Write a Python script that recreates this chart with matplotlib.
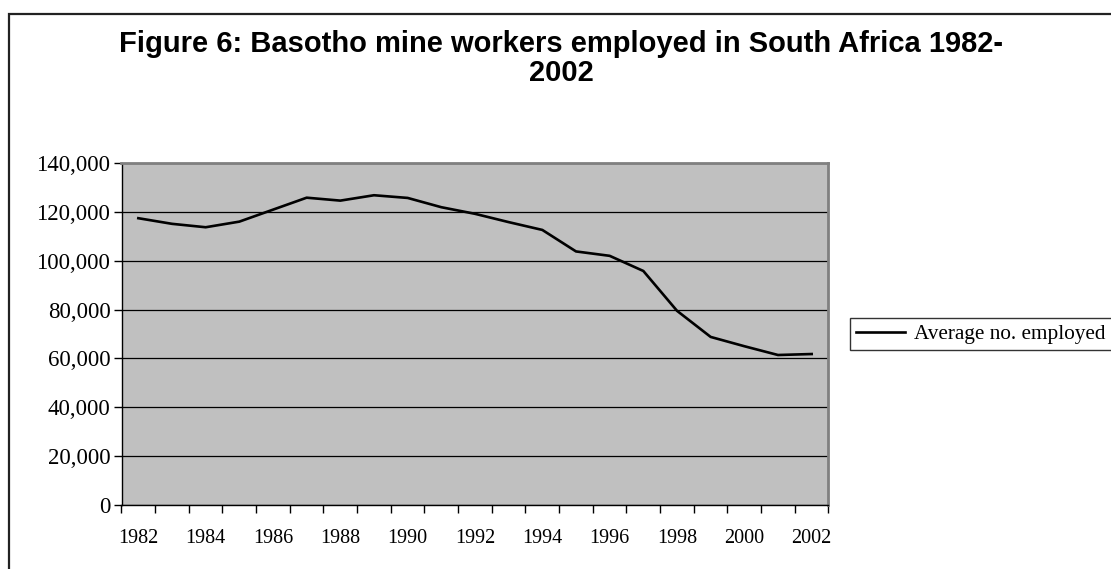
import matplotlib.pyplot as plt
from matplotlib.patches import Rectangle

years = list(range(1982, 2003))
employed = [117400, 115100, 113700, 116000, 120900, 125800, 124600, 126800,
            125700, 121900, 119200, 115800, 112600, 103800, 102000, 95800,
            79500, 68800, 65000, 61400, 61800]
y_ticks = [0, 20000, 40000, 60000, 80000, 100000, 120000, 140000]

serif = ['Liberation Serif', 'DejaVu Serif']
sans = ['Liberation Sans', 'DejaVu Sans']

fig = plt.figure(figsize=(11.11, 5.69), dpi=100)
fig.patch.set_facecolor('white')

# outer chart frame (runs off the right and bottom edges)
fig.patches.append(Rectangle((9 / 1111, -0.05), 1.1, 1.05 - 14 / 569,
                             transform=fig.transFigure, fill=False,
                             edgecolor='#222222', linewidth=1.6))

fig.text(0.505, 0.897,
         'Figure 6: Basotho mine workers employed in South Africa 1982-\n2002',
         ha='center', va='center', multialignment='center',
         fontsize=21, fontweight='bold', family=sans, linespacing=1.05)

ax = fig.add_axes([121.5 / 1111, 64 / 569, 707 / 1111, 342 / 569])
ax.set_facecolor('#c0c0c0')

x = list(range(len(years)))
line, = ax.plot(x, employed, color='black', linewidth=1.9,
                label='Average no. employed')

ax.set_xlim(-0.5, len(years) - 0.5)
ax.set_ylim(0, 140000)

ax.set_yticks(y_ticks)
ax.set_yticklabels([f'{v:,}' for v in y_ticks], family=serif, fontsize=16.5)
ax.yaxis.grid(True, color='black', linewidth=0.9)
ax.set_axisbelow(True)

bounds = [i - 0.5 for i in range(len(years) + 1)]
ax.set_xticks(bounds)
ax.set_xticklabels([''] * len(bounds))
ax.set_xticks(x[::2], minor=True)
ax.set_xticklabels([str(y) for y in years[::2]], minor=True,
                   family=serif, fontsize=14.5)
ax.tick_params(axis='x', which='major', direction='out', length=6, width=1,
               color='black')
ax.tick_params(axis='x', which='minor', length=0, pad=17)
ax.tick_params(axis='y', direction='out', length=6, width=1, pad=2,
               color='black')

for side in ('top', 'right'):
    ax.spines[side].set_color('#808080')
    ax.spines[side].set_linewidth(2)
for side in ('left', 'bottom'):
    ax.spines[side].set_color('black')
    ax.spines[side].set_linewidth(1)

leg = fig.legend(handles=[line], loc='center left',
                 bbox_to_anchor=(850 / 1111, 1 - 334 / 569),
                 prop={'family': serif, 'size': 15.3}, frameon=True,
                 fancybox=False, handlelength=2.3, handletextpad=0.4,
                 borderpad=0.3, borderaxespad=0)
leg.get_frame().set_edgecolor('black')
leg.get_frame().set_linewidth(1)

fig.savefig('out.png', dpi=100)
